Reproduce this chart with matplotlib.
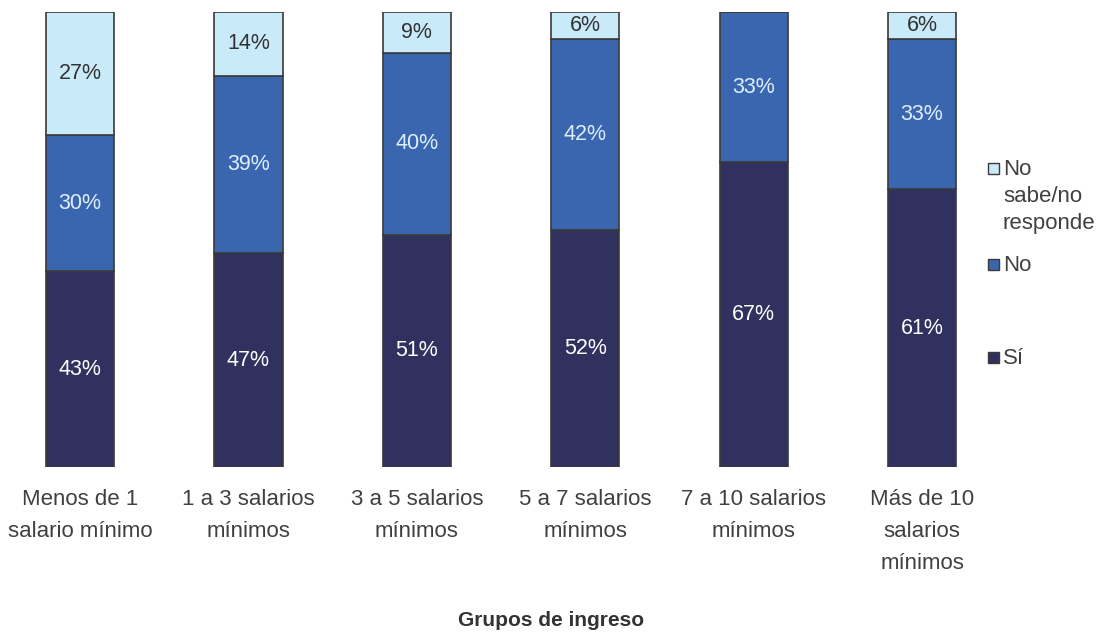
import matplotlib
matplotlib.use("Agg")
import matplotlib.pyplot as plt
from matplotlib.patches import Rectangle
import numpy as np

categories = ["Menos de 1\nsalario mínimo", "1 a 3 salarios\nmínimos", "3 a 5 salarios\nmínimos",
              "5 a 7 salarios\nmínimos", "7 a 10 salarios\nmínimos", "Más de 10\nsalarios\nmínimos"]
si = [43, 47, 51, 52, 67, 61]
no = [30, 39, 40, 42, 33, 33]
nsnr = [27, 14, 9, 6, 0, 6]

series_names = ["Sí", "No", "No\nsabe/no\nresponde"]
colors = ["#31315F", "#3A66B0", "#C8EAF9"]
text_colors = ["white", "#DDEEFF", "#333333"]

plt.rcParams['font.family'] = ['Liberation Sans', 'DejaVu Sans']
fig = plt.figure(figsize=(11.08, 6.33), dpi=100)
ax = fig.add_axes([40/1108, (633-467)/633, 920/1108, 455/633])

x = np.arange(len(categories))
bottom = np.zeros(len(categories))
for vals, col, tcol in zip([si, no, nsnr], colors, text_colors):
    vals = np.array(vals, dtype=float)
    ax.bar(x, vals, width=0.405, bottom=bottom, color=col, edgecolor="#3a3a3a", linewidth=1.2)
    for xi, b, v in zip(x, bottom, vals):
        if v > 0:
            ax.text(xi, b + v/2, f"{int(v)}%", ha="center", va="center", fontsize=15.5, color=tcol)
    bottom += vals

ax.set_xlim(-0.2375, 5.2255)
ax.set_ylim(0, 100)
ax.set_xticks(x)
ax.set_xticklabels(categories, fontsize=16, color="#404040", linespacing=1.68)
ax.tick_params(axis="x", length=0, pad=16)
ax.set_yticks([])
for s in ax.spines.values():
    s.set_visible(False)

fig.text(551/1108, 1 - 620/633, "Grupos de ingreso", ha="center", va="center",
         fontsize=15, fontweight="bold", color="#333333")

# legend
leg_items = [(nsnr, colors[2], series_names[2], 168), (no, colors[1], series_names[1], 264), (si, colors[0], series_names[0], 357)]
for _, col, name, ypx in leg_items:
    fig.patches.append(Rectangle((988/1108, 1 - (ypx + 6)/633), 11/1108, 11/633,
                                 transform=fig.transFigure, facecolor=col, edgecolor="#3a3a3a",
                                 linewidth=1.0))
    fig.text(1003/1108, 1 - (ypx - 9)/633, name, ha="left", va="top", fontsize=16,
             color="#404040", linespacing=1.38)

fig.savefig("out.png", dpi=100)
